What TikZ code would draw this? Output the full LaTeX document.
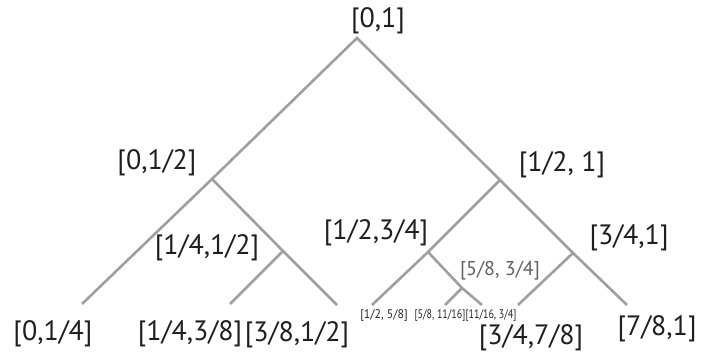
\documentclass[tikz,border=0pt]{standalone}
\usepackage{fontspec}
\setmainfont{PT Sans}
\begin{document}
\begin{tikzpicture}[x=1pt,y=-1pt,
  edge/.style={draw=gray!75, line width=2.6pt},
  big/.style={font=\fontsize{28}{28}\selectfont, inner sep=0pt, text=black!88},
  mid/.style={font=\fontsize{20}{20}\selectfont, inner sep=0pt, text=black!62},
  tiny/.style={font=\fontsize{12.5}{12.5}\selectfont, inner sep=0pt, text=black!85}]
\useasboundingbox (0,0) rectangle (703,358);
\fill[white] (0,0) rectangle (703,358);
% vertices
\coordinate (r) at (357,38);
\coordinate (a) at (212,179);
\coordinate (b) at (500,180);
\coordinate (aa) at (82,304);
\coordinate (ab) at (283,251);
\coordinate (aba) at (230,304);
\coordinate (abb) at (337,305);
\coordinate (ba) at (428,252);
\coordinate (baa) at (372,305);
\coordinate (bab) at (462,288);
\coordinate (baba) at (445,305);
\coordinate (babb) at (482,305);
\coordinate (bb) at (573,253);
\coordinate (bba) at (518,305);
\coordinate (bbb) at (627,305);
% edges
\draw[edge] (aa) -- (a) -- (r) -- (b) -- (bb) -- (bbb);
\draw[edge] (a) -- (ab) -- (abb);
\draw[edge] (ab) -- (aba);
\draw[edge] (b) -- (ba) -- (baa);
\draw[edge] (ba) -- (bab) -- (babb);
\draw[edge] (bab) -- (baba);
\draw[edge] (bb) -- (bba);
% labels
\node[big] (lr) at (378,21) {[0,1]};
\node[big] (la) at (157,163) {[0,1/2]};
\node[big] (lb) at (562,165) {[1/2, 1]};
\node[big] (lab) at (207,248) {[1/4,1/2]};
\node[big] (lba) at (376,233) {[1/2,3/4]};
\node[big] (lbb) at (629,238) {[3/4,1]};
\node[mid] (lbab) at (500,271) {[5/8, 3/4]};
\node[big] (laa) at (53,334) {[0,1/4]};
\node[big] (laba) at (190,334) {[1/4,3/8]};
\node[big] (labb) at (297,335) {[3/8,1/2]};
\node[tiny] (lbaa) at (384,315) {\scalebox{0.95}[1]{[1/2, 5/8]}};
\node[tiny] (lbaba) at (440,315) {\scalebox{0.8}[1]{[5/8, 11/16]}};
\node[tiny] (lbabb) at (491,315) {\scalebox{0.8}[1]{[11/16, 3/4]}};
\node[big] (lbba) at (531,338) {[3/4,7/8]};
\node[big] (lbbb) at (657,329) {[7/8,1]};
\end{tikzpicture}
\end{document}
